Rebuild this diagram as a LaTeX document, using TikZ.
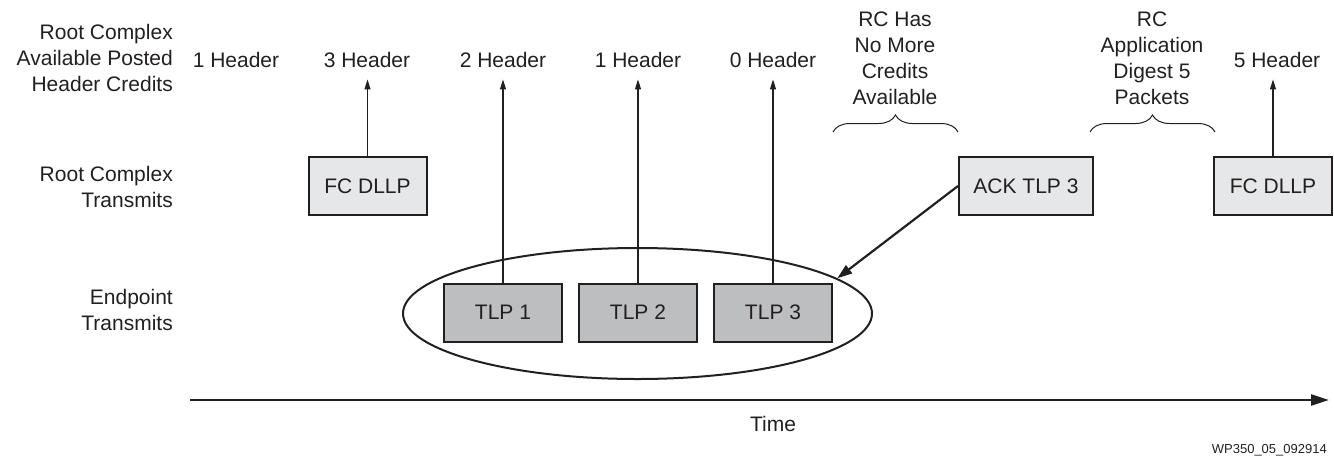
\documentclass[tikz,border=0pt]{standalone}
\usepackage{fontspec}
\setmainfont{Liberation Sans}
\usetikzlibrary{shapes.geometric,arrows.meta,decorations.pathreplacing}
\definecolor{lightbox}{RGB}{230,231,232}
\definecolor{darkbox}{RGB}{188,190,192}
\definecolor{ink}{RGB}{35,31,32}
\begin{document}
\begin{tikzpicture}[x=1pt,y=-1pt,
  txt/.style={inner sep=0pt,text=ink,font=\fontsize{21}{26}\selectfont},
  lbl/.style={txt,align=right,anchor=east},
  blk/.style={txt,align=center},
  pkt/.style={draw=ink,line width=2pt,minimum width=118pt,minimum height=58pt,inner sep=0pt,text=ink,font=\fontsize{21}{26}\selectfont},
  light/.style={pkt,fill=lightbox},
  dark/.style={pkt,fill=darkbox},
  up/.style={draw=ink,line width=1.1pt,-{Triangle[length=10pt,width=6pt]},shorten >=12pt},
  curly/.style={draw=ink,line width=1pt,decorate,decoration={brace,amplitude=17pt}}
]
\useasboundingbox (0,0) rectangle (1334,456);
% left labels
\node[lbl] (lab1) at (173,58) {Root Complex\\Available Posted\\Header Credits};
\node[lbl] (lab2) at (173,187) {Root Complex\\Transmits};
\node[lbl] (lab3) at (173,310) {Endpoint\\Transmits};
% header credit values
\node[txt] (h1) at (236,59.5) {1 Header};
\node[txt] (h3) at (367,59.5) {3 Header};
\node[txt] (h2) at (503,59.5) {2 Header};
\node[txt] (h1b) at (638,59.5) {1 Header};
\node[txt] (h0) at (773,59.5) {0 Header};
\node[txt] (h5) at (1277,59.5) {5 Header};
% annotations
\node[blk] (nomore) at (895,58) {RC Has\\No More\\Credits\\Available};
\node[blk] (digest) at (1152,58) {RC\\Application\\Digest 5\\Packets};
\coordinate (b1l) at (833,132);
\coordinate (b1r) at (958,132);
\coordinate (b2l) at (1090,132);
\coordinate (b2r) at (1215,132);
\draw[curly] (b1l) -- (b1r);
\draw[curly] (b2l) -- (b2r);
% ellipse and packets
\node[draw=ink,line width=2pt,ellipse,minimum width=469pt,minimum height=131pt,inner sep=0pt] (ell) at (637.5,313.5) {};
\node[dark] (tlp1) at (503,312.5) {TLP 1};
\node[dark] (tlp2) at (638,312.5) {TLP 2};
\node[dark] (tlp3) at (773,312.5) {TLP 3};
\node[light] (fc1) at (367.5,186) {FC DLLP};
\node[light,minimum width=134pt] (ack) at (1026,186) {ACK TLP 3};
\node[light] (fc2) at (1273,186) {FC DLLP};
% arrows
\draw[up] (fc1.north) -- (fc1.north |- h3.south);
\draw[up] (tlp1.north) -- (tlp1.north |- h2.south);
\draw[up] (tlp2.north) -- (tlp2.north |- h1b.south);
\draw[up] (tlp3.north) -- (tlp3.north |- h0.south);
\draw[up] (fc2.north) -- (fc2.north |- h5.south);
\draw[draw=ink,line width=2.2pt,-{Triangle[length=15pt,width=10pt]}] (ack.west) -- (ell.10);
% time axis
\coordinate (t0) at (190,400);
\coordinate (t1) at (1329,400);
\draw[draw=ink,line width=2.5pt,-{Triangle[length=18pt,width=11pt]}] (t0) -- (t1);
\node[txt] (time) at (773,424) {Time};
\node[inner sep=0pt,text=ink,font=\fontsize{13}{15}\selectfont,anchor=base east] (fig) at (1327,453) {WP350\_05\_092914};
\end{tikzpicture}
\end{document}
